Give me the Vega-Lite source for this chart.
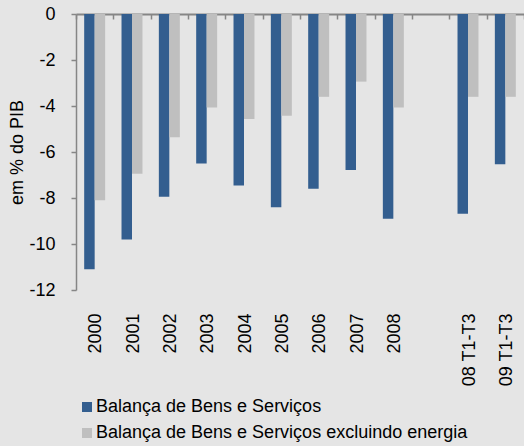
{
  "$schema": "https://vega.github.io/schema/vega-lite/v6.json",
  "width": 448,
  "height": 276,
  "autosize": {"type": "none"},
  "padding": {"left": 76, "top": 14, "right": 0, "bottom": 156},
  "background": "#E5E5E5",
  "config": {
    "view": {"stroke": null},
    "font": "Liberation Sans",
    "axis": {"labelColor": "#000000", "titleColor": "#000000", "labelFont": "Liberation Sans", "titleFont": "Liberation Sans"}
  },
  "data": {
    "values": [
      {"periodo": "2000", "serie": "Balança de Bens e Serviços", "valor": -11.1},
      {"periodo": "2000", "serie": "Balança de Bens e Serviços excluindo energia", "valor": -8.1},
      {"periodo": "2001", "serie": "Balança de Bens e Serviços", "valor": -9.8},
      {"periodo": "2001", "serie": "Balança de Bens e Serviços excluindo energia", "valor": -6.95},
      {"periodo": "2002", "serie": "Balança de Bens e Serviços", "valor": -7.95},
      {"periodo": "2002", "serie": "Balança de Bens e Serviços excluindo energia", "valor": -5.36},
      {"periodo": "2003", "serie": "Balança de Bens e Serviços", "valor": -6.5},
      {"periodo": "2003", "serie": "Balança de Bens e Serviços excluindo energia", "valor": -4.07},
      {"periodo": "2004", "serie": "Balança de Bens e Serviços", "valor": -7.46},
      {"periodo": "2004", "serie": "Balança de Bens e Serviços excluindo energia", "valor": -4.57},
      {"periodo": "2005", "serie": "Balança de Bens e Serviços", "valor": -8.4},
      {"periodo": "2005", "serie": "Balança de Bens e Serviços excluindo energia", "valor": -4.42},
      {"periodo": "2006", "serie": "Balança de Bens e Serviços", "valor": -7.6},
      {"periodo": "2006", "serie": "Balança de Bens e Serviços excluindo energia", "valor": -3.6},
      {"periodo": "2007", "serie": "Balança de Bens e Serviços", "valor": -6.78},
      {"periodo": "2007", "serie": "Balança de Bens e Serviços excluindo energia", "valor": -2.94},
      {"periodo": "2008", "serie": "Balança de Bens e Serviços", "valor": -8.9},
      {"periodo": "2008", "serie": "Balança de Bens e Serviços excluindo energia", "valor": -4.06},
      {"periodo": "08 T1-T3", "serie": "Balança de Bens e Serviços", "valor": -8.68},
      {"periodo": "08 T1-T3", "serie": "Balança de Bens e Serviços excluindo energia", "valor": -3.6},
      {"periodo": "09 T1-T3", "serie": "Balança de Bens e Serviços", "valor": -6.53},
      {"periodo": "09 T1-T3", "serie": "Balança de Bens e Serviços excluindo energia", "valor": -3.6}
    ]
  },
  "encoding": {
    "y": {
      "field": "valor",
      "type": "quantitative",
      "scale": {"domain": [-12, 0], "nice": false, "zero": false},
      "axis": {
        "values": [-12, -10, -8, -6, -4, -2, 0],
        "labelExpr": "'' + datum.value",
        "grid": false,
        "title": "em % do PIB",
        "titleFontSize": 18,
        "titleFontWeight": "normal",
        "titlePadding": 2,
        "labelFontSize": 18,
        "labelPadding": 16,
        "tickSize": 5,
        "tickColor": "#868686",
        "tickWidth": 1.5,
        "domainColor": "#868686",
        "domainWidth": 1.5
      }
    }
  },
  "layer": [
    {
      "mark": {"type": "bar"},
      "encoding": {
        "x": {
          "field": "periodo",
          "type": "nominal",
          "scale": {
            "domain": ["2000", "2001", "2002", "2003", "2004", "2005", "2006", "2007", "2008", " ", "08 T1-T3", "09 T1-T3"],
            "paddingInner": 0,
            "paddingOuter": 0
          },
          "axis": {
            "orient": "bottom",
            "offset": -276,
            "labels": false,
            "title": null,
            "tickBand": "extent",
            "tickSize": 5,
            "tickColor": "#868686",
            "tickWidth": 1.5,
            "domainColor": "#868686",
            "domainWidth": 2
          }
        },
        "xOffset": {
          "field": "serie",
          "type": "nominal",
          "scale": {
            "domain": ["Balança de Bens e Serviços", "Balança de Bens e Serviços excluindo energia"],
            "paddingInner": 0,
            "paddingOuter": 0.78
          }
        },
        "color": {
          "field": "serie",
          "type": "nominal",
          "scale": {
            "domain": ["Balança de Bens e Serviços", "Balança de Bens e Serviços excluindo energia"],
            "range": ["#335E8F", "#BFBFBF"]
          },
          "legend": {
            "orient": "none",
            "legendX": 2,
            "legendY": 384,
            "title": null,
            "symbolType": "square",
            "symbolSize": 100,
            "symbolStrokeWidth": 0,
            "labelFontSize": 18,
            "labelColor": "#000000",
            "labelOffset": 0,
            "rowPadding": 8,
            "padding": 0,
            "labelLimit": 0
          }
        }
      }
    },
    {
      "mark": {"type": "point", "opacity": 0},
      "encoding": {
        "x": {
          "field": "periodo",
          "type": "nominal",
          "scale": {
            "domain": ["2000", "2001", "2002", "2003", "2004", "2005", "2006", "2007", "2008", " ", "08 T1-T3", "09 T1-T3"],
            "paddingInner": 0,
            "paddingOuter": 0
          },
          "axis": {
            "orient": "bottom",
            "ticks": false,
            "tickSize": 0,
            "domain": false,
            "labelAngle": -90,
            "labelPadding": 23,
            "labelOffset": 1.5,
            "labelFontSize": 18,
            "title": null
          }
        }
      }
    }
  ],
  "resolve": {"axis": {"x": "independent"}}
}
